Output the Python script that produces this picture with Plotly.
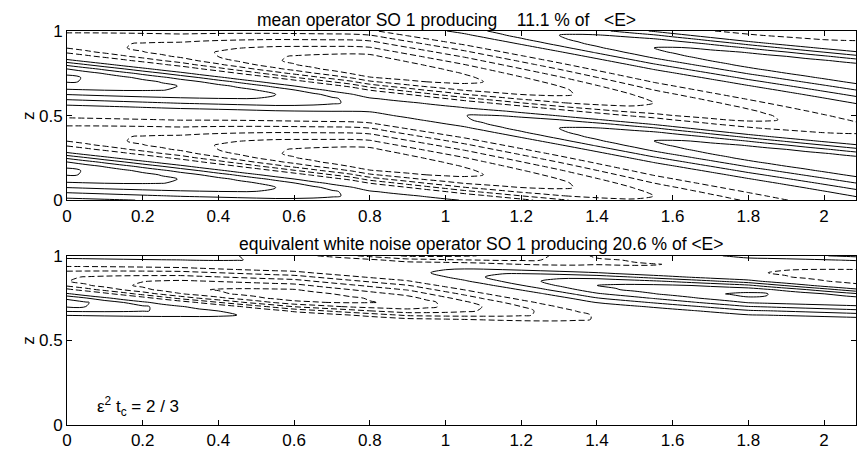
import numpy as np
import plotly.graph_objects as go
from plotly.subplots import make_subplots

# ---- tick labels -------------------------------------------------------
x_ticks = [0, 0.2, 0.4, 0.6, 0.8, 1.0, 1.2, 1.4, 1.6, 1.8, 2.0]
x_tick_text = ["0", "0.2", "0.4", "0.6", "0.8", "1", "1.2", "1.4", "1.6", "1.8", "2"]
z_ticks = [0, 0.5, 1]
z_tick_text = ["0", "0.5", "1"]

# ---- sampling grid -----------------------------------------------------
x_grid = np.arange(0.0, 2.1001, 0.05)
z_grid = np.linspace(0.0, 1.0, 41)

# ---- mean operator: trough line, crest / trough levels along x ----------
top_trough_x = [0.0, 0.75, 1.1, 1.8, 2.1]
top_trough_z = [0.94, 0.80, 0.70, 0.50, 0.42]
top_wavelength = 0.55
top_skew = 0.35
top_knot_x = [0.0, 0.3, 0.56, 0.8, 1.05, 1.3, 1.55, 1.8, 2.1]
top_crest = [5.2, 4.0, 3.0, 1.6, 2.0, 3.0, 4.0, 4.6, 5.0]
top_low = [-2.5, -3.5, -5.0, -6.0, -5.2, -4.2, -3.0, -2.3, -1.2]

# ---- white-noise operator ----------------------------------------------
bot_trough_x = [0.0, 1.06, 1.41, 2.1]
bot_trough_z = [0.86, 0.69, 0.625, 0.53]
bot_wavelength = 0.34
bot_skew = 0.3
bot_knot_x = [0.0, 0.3, 0.6, 0.9, 1.1, 1.4, 1.8, 2.1]
bot_crest = [3.5, 1.8, 0.5, 0.6, 2.0, 4.0, 5.2, 4.6]
bot_low = [-3.0, -4.8, -5.6, -4.8, -3.2, -1.2, -0.8, -2.0]
bot_env_z = [0.0, 0.5, 0.57, 0.64, 0.72, 1.0]
bot_env_w = [0.0, 0.0, 0.5, 0.85, 1.0, 1.0]

pos_levels = dict(start=1, end=7, size=1)
neg_levels = dict(start=-7, end=-1, size=1)


def wave_field(trough_x, trough_z, wavelength, skew, knot_x, crest, low, env=None):
    X, Z = np.meshgrid(x_grid, z_grid)
    zt = np.interp(X, trough_x, trough_z)
    theta = 2 * np.pi * (Z - zt) / wavelength
    # slow rise from trough to crest, sharp fall above the crest
    psi = theta + skew * np.cos(theta) - skew
    hi = np.interp(X, knot_x, crest)
    lo = np.interp(X, knot_x, low)
    f = 0.5 * (hi + lo) - 0.5 * (hi - lo) * np.cos(psi)
    if env is not None:
        f = f * np.interp(Z, env[0], env[1])
    return f


field_top = wave_field(top_trough_x, top_trough_z, top_wavelength, top_skew,
                       top_knot_x, top_crest, top_low)
field_bot = wave_field(bot_trough_x, bot_trough_z, bot_wavelength, bot_skew,
                       bot_knot_x, bot_crest, bot_low, env=(bot_env_z, bot_env_w))

fig = make_subplots(rows=2, cols=1, vertical_spacing=56 / 396)


def add_contours(field, row):
    for lv, dash in ((pos_levels, "solid"), (neg_levels, "6px,3px")):
        fig.add_trace(go.Contour(
            x=x_grid, y=z_grid, z=field,
            autocontour=False,
            contours=dict(coloring="none", showlines=True, **lv),
            line=dict(color="black", width=1, dash=dash),
            showscale=False, hoverinfo="skip",
        ), row=row, col=1)


add_contours(field_top, 1)
add_contours(field_bot, 2)

font = dict(family="Liberation Sans, Arial, sans-serif", size=17, color="black")
axis_common = dict(showline=True, linecolor="black", linewidth=1, mirror="allticks",
                   ticks="inside", ticklen=5, tickcolor="black", showgrid=False,
                   zeroline=False, tickfont=font)

for r in (1, 2):
    fig.update_xaxes(range=[0, 2.0844], tickvals=x_ticks, ticktext=x_tick_text,
                     row=r, col=1, **axis_common)
    fig.update_yaxes(range=[0, 1], tickvals=z_ticks, ticktext=z_tick_text,
                     row=r, col=1, **axis_common)

title_font = dict(family="Liberation Sans, Arial, sans-serif", size=17.5, color="black")
nb = "\u00a0"
fig.add_annotation(text=f"mean operator SO 1 producing{nb*4}11.1 % of{nb*3}<E>",
                   xref="paper", yref="paper", x=0.238, y=1.028,
                   xanchor="left", yanchor="middle", showarrow=False, font=title_font)
fig.add_annotation(text="equivalent white noise operator SO 1 producing 20.6 % of <E>",
                   xref="paper", yref="paper", x=0.215, y=0.4596,
                   xanchor="left", yanchor="middle", showarrow=False, font=title_font)
for yr in ("y", "y2"):
    fig.add_annotation(text="z", xref="paper", yref=yr, x=-0.049, y=0.5,
                       textangle=-90, showarrow=False, font=font,
                       xanchor="center", yanchor="middle")
fig.add_annotation(text="ε<sup>2</sup> t<sub>c</sub> = 2 / 3", xref="x2", yref="y2",
                   x=0.075, y=0.11, xanchor="left", yanchor="middle",
                   showarrow=False, font=font)

fig.update_layout(width=857, height=450, margin=dict(l=67, r=0, t=31, b=23),
                  paper_bgcolor="white", plot_bgcolor="white", showlegend=False)

fig.write_html("out.html")
